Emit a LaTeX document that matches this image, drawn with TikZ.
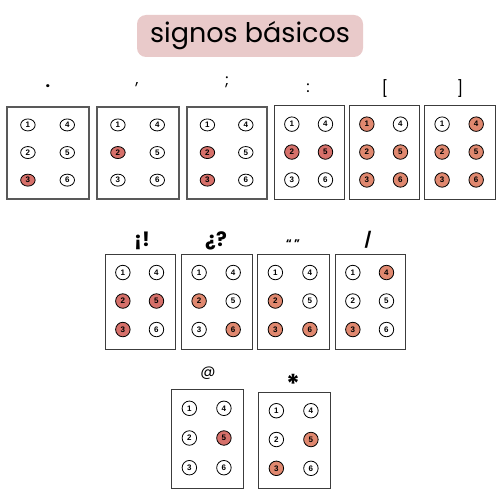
\documentclass[tikz,border=0pt]{standalone}
\usepackage{fontspec}
\setmainfont{Poppins}
\newfontfamily\numfont{Liberation Sans}
\usetikzlibrary{shapes.geometric}
\definecolor{darkdot}{HTML}{D6706A}
\definecolor{lightdot}{HTML}{E0886F}
\definecolor{titlebg}{HTML}{E9CACA}
\definecolor{boxline}{HTML}{3C3C3C}
\tikzset{
  brlbox/.style={draw=boxline, line width=1pt, rectangle, inner sep=0pt},
  brlboxb/.style={draw=boxline!85, line width=1.15pt, rectangle, inner sep=0pt},
  dotround/.style={circle, draw=black, line width=0.8pt, minimum size=14.5pt, inner sep=0pt,
     font=\numfont\bfseries\fontsize{8}{8}\selectfont},
  dotoval/.style={ellipse, draw=black, line width=0.8pt, minimum width=14.5pt, minimum height=12pt, inner sep=0pt,
     font=\numfont\bfseries\fontsize{8}{8}\selectfont},
  lbl/.style={inner sep=0pt, font=\fontsize{16}{16}\selectfont},
  lblm/.style={inner sep=0pt, font=\bfseries\fontsize{16}{16}\selectfont},
  lblb/.style={inner sep=0pt, font=\bfseries\fontsize{20}{20}\selectfont},
}
% #1 name, #2 left, #3 top, #4 right, #5 bottom, #6 dot list n/f, #7 fill colour, #8 box style, #9 dot style
\newcommand\brbox[9]{%
  \pgfmathsetmacro\bw{#4-#2}\pgfmathsetmacro\bh{#5-#3}%
  \node[#8, minimum width=\bw pt, minimum height=\bh pt] (#1) at ({(#2+#4)/2},{(#3+#5)/2}) {};
  \foreach \n/\f in {#6} {%
    \pgfmathtruncatemacro\cc{\n>3 ? 1 : 0}%
    \pgfmathtruncatemacro\rr{mod(\n-1,3)}%
    \pgfmathsetmacro\dx{#2+\bw*(0.255+0.48*\cc)}%
    \pgfmathsetmacro\dy{#3+\bh*(0.195+0.3*\rr)}%
    \ifnum\f=1 \def\fc{#7}\else\def\fc{white}\fi
    \node[#9, fill=\fc] (#1-\n) at (\dx,\dy) {\n};
  }%
}
\begin{document}
\begin{tikzpicture}[x=1pt,y=-1pt]
\useasboundingbox (0,0) rectangle (500,500);
% title
\node[fill=titlebg, rounded corners=9pt, minimum width=226pt, minimum height=42pt, inner sep=0pt,
      font=\fontsize{27}{27}\selectfont] (title) at (250,36) {signos básicos};
% row 1
\brbox{bpunto}{7}{107}{89}{199}{1/0,2/0,3/1,4/0,5/0,6/0}{darkdot}{brlboxb}{dotoval}
\brbox{bcoma}{97}{107}{179}{199}{1/0,2/1,3/0,4/0,5/0,6/0}{darkdot}{brlboxb}{dotoval}
\brbox{bpyc}{187}{107}{267}{199}{1/0,2/1,3/1,4/0,5/0,6/0}{darkdot}{brlboxb}{dotoval}
\brbox{bdosp}{274}{106}{344}{199}{1/0,2/1,3/0,4/0,5/1,6/0}{darkdot}{brlbox}{dotround}
\brbox{babre}{349}{106}{419}{199}{1/1,2/1,3/1,4/0,5/1,6/1}{lightdot}{brlbox}{dotround}
\brbox{bcierra}{424}{106}{495}{199}{1/0,2/1,3/1,4/1,5/1,6/1}{lightdot}{brlbox}{dotround}
\node[lblm] (lpunto) at (48,86) {.};
\node[lbl] (lcoma) at (137,85) {,};
\node[lbl] (lpyc) at (227,82) {;};
\node[lbl] (ldosp) at (308,88) {:};
\node[lbl] (labre) at (385,89) {[};
\node[lbl] (lcierra) at (460,89) {]};
% row 2
\brbox{bexcl}{105}{254}{175}{349}{1/0,2/1,3/1,4/0,5/1,6/0}{darkdot}{brlbox}{dotround}
\brbox{bquest}{181}{254}{252}{349}{1/0,2/1,3/0,4/0,5/0,6/1}{lightdot}{brlbox}{dotround}
\brbox{bcomi}{257}{254}{329}{349}{1/0,2/1,3/1,4/0,5/0,6/1}{lightdot}{brlbox}{dotround}
\brbox{bbarra}{335}{254}{405}{349}{1/0,2/0,3/1,4/1,5/0,6/0}{lightdot}{brlbox}{dotround}
\node[lblb] (lexcl) at (142,241) {¡!};
\node[lblb] (lquest) at (216,241) {¿?};
\node[inner sep=0pt, font=\bfseries\fontsize{11}{11}\selectfont] (lcomi) at (293,244) {“ ”};
\node[inner sep=0pt, font=\bfseries\fontsize{15}{15}\selectfont] (lbarra) at (368,240) {/};
% row 3
\brbox{barroba}{171}{389}{243}{488}{1/0,2/0,3/0,4/0,5/1,6/0}{darkdot}{brlbox}{dotround}
\brbox{bast}{258}{392}{330}{488}{1/0,2/0,3/1,4/0,5/1,6/0}{lightdot}{brlbox}{dotround}
\node[inner sep=0pt, font=\fontsize{15}{15}\selectfont] (larroba) at (208,373) {@};
\node[inner sep=0pt, font=\bfseries\fontsize{26}{26}\selectfont] (last) at (293,384) {*};
\end{tikzpicture}
\end{document}
